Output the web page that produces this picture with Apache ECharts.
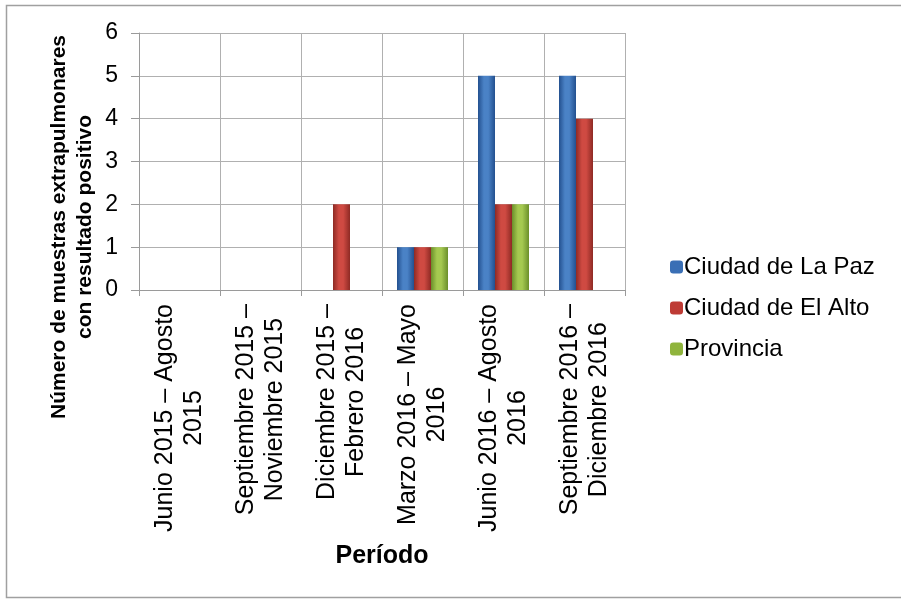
<!DOCTYPE html>
<html>
<head>
<meta charset="utf-8">
<script src="https://cdn.jsdelivr.net/npm/echarts@6/dist/echarts.min.js"></script>
<style>
html,body{margin:0;padding:0;background:#fff;}
#chart{width:901px;height:599px;}
</style>
</head>
<body>
<div id="chart"></div>
<script>
const categories = [
  ["Junio 2015 – Agosto", "2015"],
  ["Septiembre 2015 –", "Noviembre 2015"],
  ["Diciembre 2015 –", "Febrero 2016"],
  ["Marzo 2016 – Mayo", "2016"],
  ["Junio 2016 – Agosto", "2016"],
  ["Septiembre 2016 –", "Diciembre 2016"]
];
const seriesNames = ["Ciudad de La Paz", "Ciudad de El Alto", "Provincia"];
const laPaz = [0, 0, 0, 1, 5, 5];
const elAlto = [0, 0, 2, 1, 2, 4];
const provincia = [0, 0, 0, 1, 2, 0];
const yTicks = [0, 1, 2, 3, 4, 5, 6];
const yTitle = ["Número de muestras extrapulmonares", "con resultado positivo"];
const xTitle = "Período";

const FONT = "Liberation Sans, Arial, sans-serif";

function grad(edge, mid) {
  return new echarts.graphic.LinearGradient(0, 0, 1, 0, [
    {offset: 0, color: edge},
    {offset: 0.35, color: mid},
    {offset: 0.6, color: mid},
    {offset: 1, color: edge}
  ]);
}
const colors = [
  grad('#23508f', '#4a82c6'),
  grad('#8e2a24', '#cf4a42'),
  grad('#6b8f2a', '#a5c950')
];
const legendColors = ['#3a6fb5', '#be3b35', '#8fb43c'];

const chart = echarts.init(document.getElementById('chart'));
const dataSets = [laPaz, elAlto, provincia];

chart.setOption({
  backgroundColor: '#fff',
  animation: false,
  textStyle: {fontFamily: FONT, color: '#000'},
  grid: {left: 139, right: 276, top: 33, bottom: 309},
  legend: {
    orient: 'vertical',
    left: 665,
    top: 250,
    itemWidth: 13,
    itemHeight: 13,
    itemGap: 17,
    textStyle: {fontSize: 24, fontFamily: FONT, color: '#000', padding: [0, 0, 0, -4]},
    data: seriesNames.map((n, i) => ({name: n, itemStyle: {color: legendColors[i]}}))
  },
  xAxis: {
    type: 'category',
    data: categories.map(c => c.join('\n')),
    name: xTitle,
    nameLocation: 'middle',
    nameGap: 254,
    nameTextStyle: {fontSize: 25, fontWeight: 'bold', fontFamily: FONT, color: '#000'},
    axisLine: {lineStyle: {color: '#9a9a9a', width: 1}},
    axisTick: {show: true, length: 6, lineStyle: {color: '#9a9a9a'}},
    splitLine: {show: true, lineStyle: {color: '#b0b0b0', width: 1}},
    axisLabel: {
      rotate: 90,
      margin: 14,
      interval: 0,
      formatter: function (v) {
        return v.split('\n').map(s => '{a|' + s + '}').join('\n');
      },
      rich: {a: {align: 'center', fontSize: 25, lineHeight: 29, fontFamily: FONT, color: '#000'}}
    }
  },
  yAxis: {
    type: 'value',
    min: yTicks[0],
    max: yTicks[yTicks.length - 1],
    interval: 1,
    axisLine: {show: true, lineStyle: {color: '#9a9a9a'}},
    axisTick: {show: true, length: 8, lineStyle: {color: '#9a9a9a'}},
    splitLine: {lineStyle: {color: '#b0b0b0', width: 1}},
    axisLabel: {fontSize: 23, margin: 21, color: '#000', fontFamily: FONT}
  },
  series: seriesNames.map((n, i) => ({
    name: n,
    type: 'bar',
    data: dataSets[i],
    barWidth: 17,
    barGap: '0%',
    itemStyle: {color: colors[i]}
  })),
  graphic: [
    {
      type: 'rect',
      shape: {x: 6.5, y: 5.5, width: 900, height: 592},
      style: {fill: null, stroke: '#a0a0a0', lineWidth: 1.5},
      silent: true
    },
    {
      type: 'text',
      x: 72,
      y: 227,
      rotation: Math.PI / 2,
      style: {
        text: yTitle.join('\n'),
        font: 'bold 21px ' + FONT,
        fill: '#000',
        align: 'center',
        verticalAlign: 'middle',
        lineHeight: 26
      }
    }
  ]
});
</script>
</body>
</html>
